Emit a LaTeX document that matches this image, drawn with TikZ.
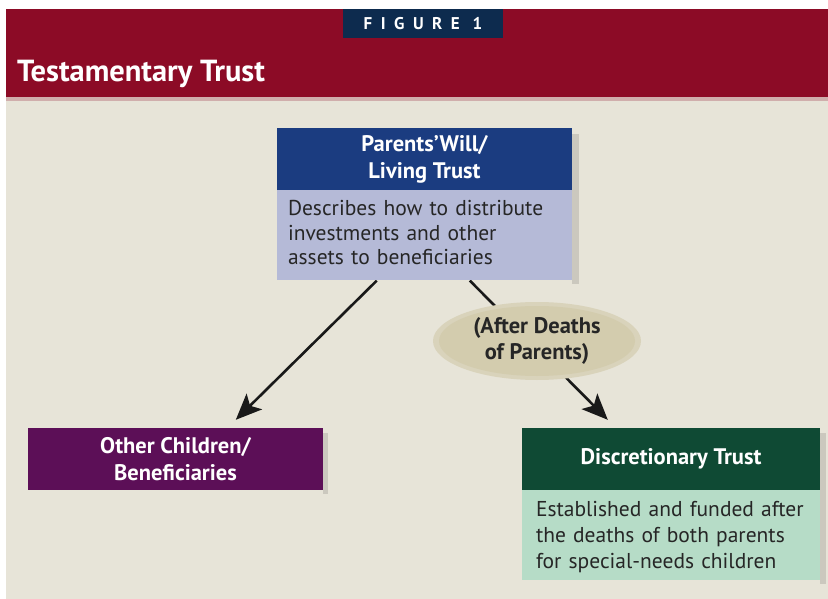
\documentclass[tikz,border=0pt]{standalone}
\usepackage{fontspec}
\setmainfont{PT Sans}
\usetikzlibrary{arrows.meta,shapes.geometric,calc}
\definecolor{bandred}{HTML}{8C0B26}
\definecolor{fignavy}{HTML}{0D2B4E}
\definecolor{hdrnavy}{HTML}{1B3C80}
\definecolor{lav}{HTML}{B5BAD7}
\definecolor{plum}{HTML}{5C0F57}
\definecolor{dgreen}{HTML}{0F4A34}
\definecolor{lgreen}{HTML}{B6DCC7}
\definecolor{beige}{HTML}{E7E4D8}
\definecolor{tan}{HTML}{D3CCAE}
\definecolor{shadowc}{HTML}{CBC8BE}
\pgfdeclarelayer{back}
\pgfdeclarelayer{arr}
\pgfsetlayers{back,arr,main}
\tikzset{
  hdr/.style={minimum width=295pt, minimum height=62pt, inner sep=0pt, text=white,
    font=\fontsize{22.5}{27}\selectfont\bfseries, align=center},
  bodybox/.style={minimum width=295pt, minimum height=90pt, inner sep=0pt},
  bodytext/.style={anchor=north west, inner sep=0pt, text width=285pt,
    align=left, text=black!85},
  arrowline/.style={line width=2.6pt, draw=black!90,
    -{Stealth[length=26pt,width=22pt,inset=6pt]}},
}
\begin{document}
\begin{tikzpicture}[x=1pt,y=-1pt]
\useasboundingbox (0,0) rectangle (828,599);
\begin{pgfonlayer}{back}
\fill[white] (0,0) rectangle (828,599);
\fill[beige] (6,97) rectangle (828,599);
\fill[bandred] (6,9) rectangle (828,97);
\fill[bandred!25!beige] (6,97) rectangle (828,101);
% shadows
\fill[shadowc] (572,134) rectangle (579,284);
\fill[shadowc] (323,433) rectangle (328,494);
\fill[shadowc] (820,433) rectangle (826,584);
\end{pgfonlayer}
% figure label
\node[fill=fignavy, minimum width=160pt, minimum height=29pt, inner sep=0pt,
  text=white, font=\fontsize{17}{17}\selectfont\bfseries\addfontfeatures{LetterSpace=50}]
  (fig) at (423,23.5) {FIGURE 1};
\node[anchor=west, text=white, inner sep=0pt,
  font=\fontsize{30.5}{30.5}\selectfont\bfseries] (title) at (17,74) {Testamentary Trust};
% top box
\node[hdr, fill=hdrnavy] (pw) at (424.5,159) {Parents'Will/\\Living Trust};
\node[bodybox, fill=lav, anchor=north] (pwb) at (pw.south) {};
\node[bodytext, font=\fontsize{21.5}{24.5}\selectfont]
  (pwt) at ([xshift=11pt,yshift=-10pt]pwb.north west)
  {Describes how to distribute\\investments and other\\assets to beneficiaries};
% left box
\node[hdr, fill=plum] (oc) at (175.5,459) {Other Children/\\Beneficiaries};
% right box
\node[hdr, fill=dgreen, minimum width=298pt] (dt) at (671,459) {Discretionary Trust};
\node[bodybox, fill=lgreen, anchor=north, minimum width=298pt] (dtb) at (dt.south) {};
\node[bodytext, font=\fontsize{21.5}{26}\selectfont]
  (dtt) at ([xshift=14pt,yshift=-11pt]dtb.north west)
  {Established and funded after\\the deaths of both parents\\for special-needs children};
% ellipse
\node[ellipse, fill=tan!70!beige, minimum width=208pt, minimum height=78pt, inner sep=0pt] (elo) at (537,341) {};
\node[ellipse, fill=tan, minimum width=196pt, minimum height=70pt, inner sep=0pt,
  font=\fontsize{22.5}{26}\selectfont\bfseries, text=black!85, align=center]
  (el) at (537,341) {(After Deaths\\of Parents)};
% arrows
\begin{pgfonlayer}{arr}
\draw[arrowline] ([xshift=100pt]pwb.south west) -- ([xshift=208pt,yshift=8pt]oc.north west);
\draw[arrowline] ([xshift=193pt]pwb.south west) -- ([xshift=86pt,yshift=8pt]dt.north west);
\end{pgfonlayer}
\end{tikzpicture}
\end{document}
